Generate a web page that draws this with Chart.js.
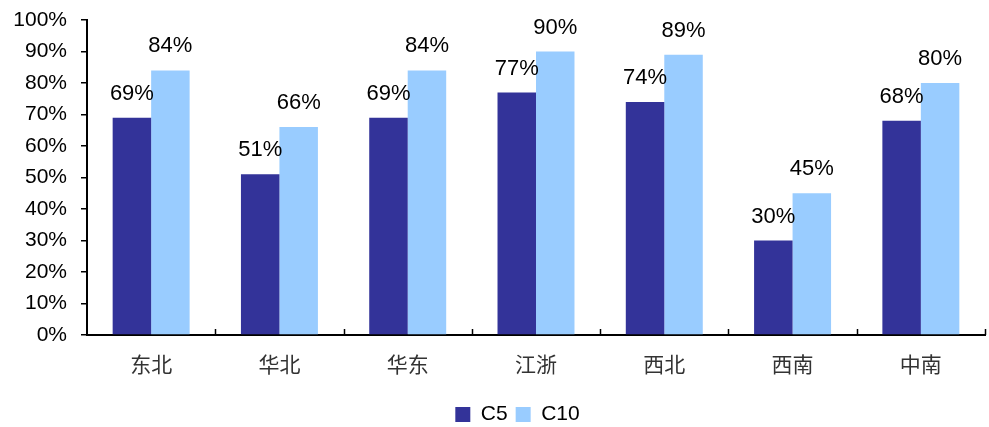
<!DOCTYPE html>
<html>
<head>
<meta charset="utf-8">
<script src="https://cdn.jsdelivr.net/npm/chart.js@4/dist/chart.umd.min.js"></script>
<style>
  html, body { margin: 0; padding: 0; background: #fff; }
  #wrap { width: 989px; height: 427px; }
</style>
</head>
<body>
<div id="wrap"><canvas id="chart" width="989" height="427"></canvas></div>
<script>
// Chart data
const regions = ["东北", "华北", "华东", "江浙", "西北", "西南", "中南"];
const c5Values = [69, 51, 69, 77, 74, 30, 68];
const c10Values = [84, 66, 84, 90, 89, 45, 80];
const yTicks = [0, 10, 20, 30, 40, 50, 60, 70, 80, 90, 100];

const latin = "'Liberation Sans', Arial, sans-serif";

// value labels above each bar
const barLabels = {
    id: "barLabels",
    afterDatasetsDraw(chart) {
        const ctx = chart.ctx;
        ctx.save();
        ctx.font = "22px " + latin;
        ctx.fillStyle = "#000";
        ctx.textAlign = "center";
        ctx.textBaseline = "bottom";
        chart.data.datasets.forEach((ds, i) => {
            chart.getDatasetMeta(i).data.forEach((bar, j) => {
                ctx.fillText(ds.data[j] + "%", bar.x, bar.y - 13);
            });
        });
        ctx.restore();
    }
};

// small upward tick marks between categories on the x axis
const xTickMarks = {
    id: "xTickMarks",
    afterDraw(chart) {
        const x = chart.scales.x;
        const ctx = chart.ctx;
        const step = (x.right - x.left) / regions.length;
        ctx.save();
        ctx.strokeStyle = "#000";
        ctx.lineWidth = 1.5;
        for (let i = 1; i <= regions.length; i++) {
            const px = Math.round(x.left + i * step) + 0.5;
            ctx.beginPath();
            ctx.moveTo(px, x.top);
            ctx.lineTo(px, x.top - 6);
            ctx.stroke();
        }
        ctx.restore();
    }
};

const chart = new Chart(document.getElementById("chart").getContext("2d"), {
    type: "bar",
    data: {
        labels: regions,
        datasets: [
            { label: "C5", data: c5Values, backgroundColor: "#333399" },
            { label: "C10", data: c10Values, backgroundColor: "#99CCFF" }
        ]
    },
    options: {
        responsive: false,
        animation: false,
        layout: { padding: { top: 20, right: 4, bottom: 0, left: 0 } },
        datasets: { bar: { categoryPercentage: 0.6, barPercentage: 1.0 } },
        plugins: {
            legend: {
                position: "bottom",
                labels: {
                    boxWidth: 15,
                    boxHeight: 15,
                    padding: 8,
                    color: "#000",
                    font: { size: 21, family: latin }
                }
            },
            tooltip: { enabled: false }
        },
        scales: {
            x: {
                grid: { display: false, drawTicks: false },
                border: { display: true, color: "#000", width: 2 },
                ticks: {
                    color: "#333",
                    padding: 16,
                    font: { size: 21, family: "'Noto Sans CJK SC', sans-serif" }
                },
                afterFit(scale) { scale.height = 53; }
            },
            y: {
                min: 0,
                max: 100,
                afterBuildTicks(scale) { scale.ticks = yTicks.map(v => ({ value: v })); },
                grid: { drawOnChartArea: false, drawTicks: true, tickLength: 6, color: "#000", lineWidth: 1.5 },
                border: { display: true, color: "#000", width: 2 },
                ticks: {
                    color: "#000",
                    padding: 14,
                    font: { size: 21, family: latin },
                    callback: v => v + "%"
                },
                afterFit(scale) {
                    scale.width = 87;
                    scale.paddingTop = 0;
                    scale.paddingBottom = 0;
                }
            }
        }
    },
    plugins: [barLabels, xTickMarks]
});

// nudge the legend to sit where the original one sits
const legendDraw = chart.legend.draw;
chart.legend.draw = function() {
    chart.ctx.save();
    chart.ctx.translate(25, 8);
    legendDraw.apply(this, arguments);
    chart.ctx.restore();
};
chart.draw();
</script>
</body>
</html>
